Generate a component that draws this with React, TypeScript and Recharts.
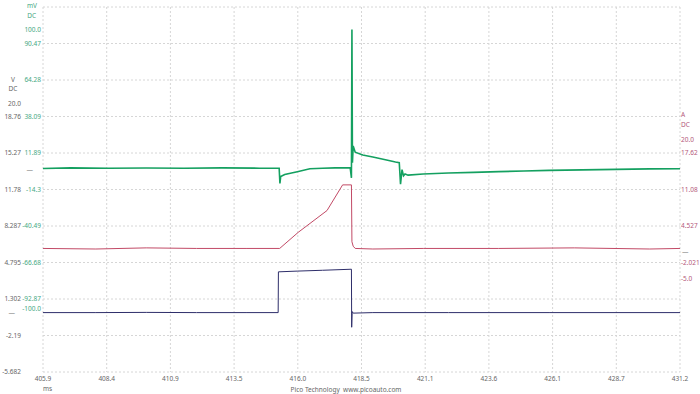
import React from 'react';
import { LineChart, Line, XAxis, YAxis, CartesianGrid } from 'recharts';

// ---- axes ----
const xTicks = [405.9, 408.43, 410.96, 413.49, 416.02, 418.55, 421.08, 423.61, 426.14, 428.67, 431.2];
const xLabels = ['405.9', '408.4', '410.9', '413.5', '416.0', '418.5', '421.1', '423.6', '426.1', '428.7', '431.2'];
const gridTicks = [0, 1, 2, 3, 4, 5, 6, 7, 8, 9, 10];

const mvDomain = [-145.25, 116.66];
const mvTicks = [100, 90.47, 64.28, 38.09, 11.89, -14.3, -40.49, -66.68, -92.87, -100, 0];
const mvLabels = ['100.0', '90.47', '64.28', '38.09', '11.89', '-14.3', '-40.49', '-66.68', '-92.87', '-100.0', '—'];

const vDomain = [-5.682, 29.235];
const vTicks = [20, 18.76, 15.27, 11.78, 8.287, 4.795, 1.302, -2.19, -5.682, 0];
const vLabels = ['20.0', '18.76', '15.27', '11.78', '8.287', '4.795', '1.302', '-2.19', '-5.682', '—'];

const aDomain = [-21.662, 43.808];
const aTicks = [20, 17.62, 11.08, 4.527, -2.021, -5, 0];
const aLabels = ['20.0', '17.62', '11.08', '4.527', '-2.021', '-5.0', '—'];

// ---- series ----
const greenT = [405.9, 407.0, 408.5, 410.0, 411.5, 413.0, 414.5, 415.28, 415.31, 415.34, 415.5, 416.0, 416.5, 417.0, 417.5, 418.1, 418.15, 418.17, 418.19, 418.22, 418.3, 418.6, 419.0, 419.5, 419.9, 420.05, 420.1, 420.16, 420.22, 420.28, 420.4, 421.0, 422.0, 423.0, 424.0, 425.0, 426.0, 428.0, 430.0, 431.2];
const greenMv = [0.8, 1.2, 0.9, 1.1, 0.9, 1.2, 1.0, 1.0, -10.0, -5.0, -3.5, -1.5, 0.6, 1.0, 1.2, 1.3, -6.0, 100.5, 5.0, 17.0, 12.5, 10.5, 9.0, 7.0, 5.5, 5.0, -10.5, 0.0, -4.5, -3.2, -4.0, -3.2, -2.5, -2.0, -1.5, -1.0, -0.6, 0.0, 0.5, 0.6];

const redT = [405.9, 408.0, 410.0, 412.0, 414.0, 415.3, 416.04, 417.18, 417.8, 418.15, 418.17, 418.22, 418.3, 419.0, 421.0, 424.0, 427.0, 430.0, 431.2];
const redA = [0.5, 0.4, 0.6, 0.5, 0.5, 0.5, 3.4, 7.3, 11.9, 11.9, 1.7, 0.9, 0.5, 0.4, 0.5, 0.5, 0.6, 0.4, 0.5];

const blackT = [405.9, 408.0, 410.0, 412.0, 414.0, 415.24, 415.25, 416.0, 417.0, 418.15, 418.16, 418.18, 418.22, 419.0, 422.0, 426.0, 431.2];
const blackV = [0.0, 0.0, 0.02, 0.0, 0.0, 0.0, 3.9, 3.97, 4.05, 4.15, -1.4, 0.1, -0.05, 0.0, 0.0, 0.0, 0.0];

const greenData = greenT.map((t, i) => ({ t, v: greenMv[i] }));
const redData = redT.map((t, i) => ({ t, v: redA[i] }));
const blackData = blackT.map((t, i) => ({ t, v: blackV[i] }));

const FONT = "'Noto Sans', 'DejaVu Sans', sans-serif";
const FS = 6.5;
const GRAY = '#666';
const GREEN_LBL = '#45a882';
const RED_LBL = '#b4587a';
const GREEN = '#14a060';
const RED = '#c24a66';
const NAVY = '#2e2e6a';

const makeTick = (ticks: number[], labels: string[], color: string, anchor: string, markerDx: number) =>
  (props: any) => {
    const { x, y, payload } = props;
    const i = ticks.indexOf(payload.value);
    if (i < 0) return <g />;
    const isMarker = payload.value === 0;
    return (
      <text x={x + (isMarker ? markerDx : 0)} y={y} dy="0.35em" textAnchor={anchor}
        fill={isMarker ? '#888' : color} fontSize={FS} fontFamily={FONT}>
        {labels[i]}
      </text>
    );
  };

const XTick = (props: any) => {
  const { x, y, payload } = props;
  const i = xTicks.indexOf(payload.value);
  return (
    <text x={x} y={y} dy="0.71em" textAnchor="middle" fill={GRAY} fontSize={FS} fontFamily={FONT}>
      {i >= 0 ? xLabels[i] : ''}
    </text>
  );
};

const gridRows = (props: any) => {
  const ax = props && props.yAxis;
  if (ax && typeof ax.scale === 'function' && ax.yAxisId === 'grid') {
    return gridTicks.map((v) => ax.scale(v));
  }
  const off = props.offset;
  return gridTicks.map((v) => off.top + (off.height * v) / 10);
};

export default function App() {
  return (
    <div style={{ position: 'absolute', left: 0, top: 0, width: 700, height: 394, background: '#fff' }}>
      <LineChart width={700} height={394} margin={{ top: 7, right: 18, bottom: 0, left: 41 }} style={{ overflow: 'visible' }}>
        <CartesianGrid yAxisId="grid" stroke="#d6d6d6" strokeDasharray="2 2" horizontalCoordinatesGenerator={gridRows} />
        <XAxis dataKey="t" type="number" domain={[405.9, 431.2]} ticks={xTicks} height={22}
          tickLine={false} axisLine={false} tickSize={0} tickMargin={4} tick={<XTick />} allowDataOverflow />
        <YAxis yAxisId="grid" type="number" domain={[0, 10]} ticks={gridTicks} width={1} orientation="right"
          tick={false} tickLine={false} axisLine={false} interval={0} />
        <YAxis yAxisId="mv" type="number" domain={mvDomain} ticks={mvTicks} width={1} orientation="left"
          tickLine={false} axisLine={false} tickSize={0} tickMargin={2} interval={0}
          tick={makeTick(mvTicks, mvLabels, GREEN_LBL, 'end', -8)} allowDataOverflow />
        <YAxis yAxisId="v" type="number" domain={vDomain} ticks={vTicks} width={1} orientation="left"
          tickLine={false} axisLine={false} tickSize={0} tickMargin={21} interval={0}
          tick={makeTick(vTicks, vLabels, GRAY, 'end', -6)} allowDataOverflow />
        <YAxis yAxisId="a" type="number" domain={aDomain} ticks={aTicks} width={1} orientation="right"
          tickLine={false} axisLine={false} tickSize={0} tickMargin={1} interval={0}
          tick={makeTick(aTicks, aLabels, RED_LBL, 'start', 1)} allowDataOverflow />
        <Line yAxisId="a" data={redData} dataKey="v" type="linear" stroke={RED} strokeWidth={1} dot={false} isAnimationActive={false} />
        <Line yAxisId="v" data={blackData} dataKey="v" type="linear" stroke={NAVY} strokeWidth={1} dot={false} isAnimationActive={false} />
        <Line yAxisId="mv" data={greenData} dataKey="v" type="linear" stroke={GREEN} strokeWidth={1.6} dot={false} isAnimationActive={false} />
      </LineChart>
      <svg width={700} height={394} style={{ position: 'absolute', left: 0, top: 0, pointerEvents: 'none' }}>
        <g fontFamily={FONT} fontSize={FS}>
          <text x={37} y={6} dy="0.35em" textAnchor="end" fill={GREEN_LBL}>mV</text>
          <text x={36} y={16} dy="0.35em" textAnchor="end" fill={GREEN_LBL}>DC</text>
          <text x={13} y={80} dy="0.35em" textAnchor="middle" fill={GRAY}>V</text>
          <text x={13} y={89} dy="0.35em" textAnchor="middle" fill={GRAY}>DC</text>
          <text x={681} y={115} dy="0.35em" textAnchor="start" fill={RED_LBL}>A</text>
          <text x={681} y={125} dy="0.35em" textAnchor="start" fill={RED_LBL}>DC</text>
          <text x={43} y={389} dy="0.35em" textAnchor="start" fill={GRAY}>ms</text>
          <text x={346} y={390} dy="0.35em" textAnchor="middle" fill={GRAY}>{'Pico Technology\u00A0\u00A0www.picoauto.com'}</text>
        </g>
      </svg>
    </div>
  );
}
